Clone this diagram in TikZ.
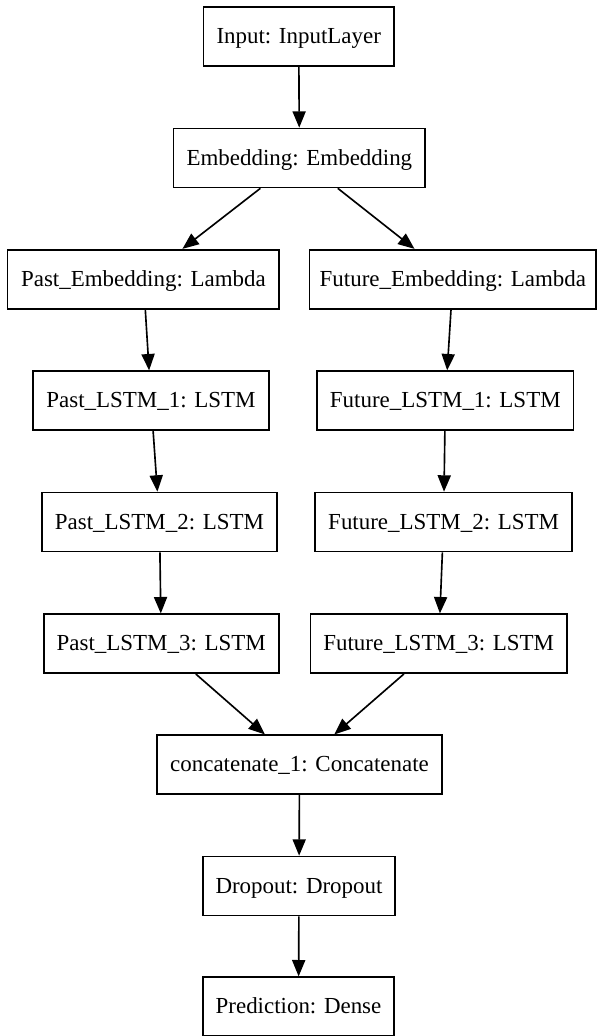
\documentclass[tikz,border=0pt]{standalone}
\usepackage{fontspec}
\setmainfont{Liberation Serif}
\usetikzlibrary{arrows.meta}
\begin{document}
\begin{tikzpicture}[x=0.6102pt,y=-0.6102pt,
  layer/.style={draw, line width=1pt, rectangle, inner sep=0pt,
    minimum height=36pt, text height=10pt, text depth=1.4pt,
    font=\fontsize{14}{16}\selectfont},
  wd/.style={minimum width=#1*0.6102pt},
  edge/.style={line width=1pt, -{Triangle[length=10pt,width=8pt]}}]
\useasboundingbox (0,0) rectangle (597,1036);
\node[layer,wd=190.7] (inp) at (298.7,36.2) {Input: InputLayer};
\node[layer,wd=251.7] (emb) at (299.4,158) {Embedding: Embedding};
\node[layer,wd=271.6] (pemb) at (143.4,279.2) {Past\_Embedding: Lambda};
\node[layer,wd=286.6] (femb) at (452.9,279.2) {Future\_Embedding: Lambda};
\node[layer,wd=235.4] (pl1) at (151,400.7) {Past\_LSTM\_1: LSTM};
\node[layer,wd=256.7] (fl1) at (445.3,400.7) {Future\_LSTM\_1: LSTM};
\node[layer,wd=235.6] (pl2) at (159.5,522) {Past\_LSTM\_2: LSTM};
\node[layer,wd=256.7] (fl2) at (443.6,522) {Future\_LSTM\_2: LSTM};
\node[layer,wd=235] (pl3) at (161.2,643.7) {Past\_LSTM\_3: LSTM};
\node[layer,wd=256.7] (fl3) at (438.7,643.7) {Future\_LSTM\_3: LSTM};
\node[layer,wd=284.4] (cat) at (299.5,764.8) {concatenate\_1: Concatenate};
\node[layer,wd=192.6] (drop) at (299,886) {Dropout: Dropout};
\node[layer,wd=191] (pred) at (298.5,1006.7) {Prediction: Dense};
\draw[edge] (inp) -- (emb);
\draw[edge] (emb) -- (pemb);
\draw[edge] (emb) -- (femb);
\draw[edge] (pemb) -- (pl1);
\draw[edge] (femb) -- (fl1);
\draw[edge] (pl1) -- (pl2);
\draw[edge] (fl1) -- (fl2);
\draw[edge] (pl2) -- (pl3);
\draw[edge] (fl2) -- (fl3);
\draw[edge] (pl3) -- (cat);
\draw[edge] (fl3) -- (cat);
\draw[edge] (cat) -- (drop);
\draw[edge] (drop) -- (pred);
\end{tikzpicture}
\end{document}
